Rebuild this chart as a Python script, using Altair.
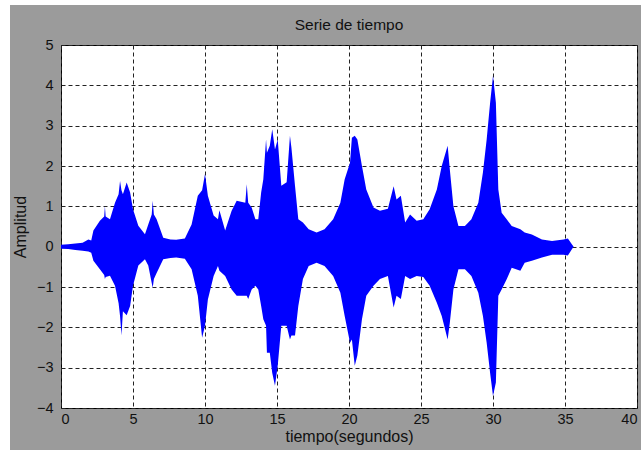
import altair as alt
import pandas as pd

# Envelope of the dense signal
tiempo = [0.0, 0.5, 1.0, 1.5, 1.9, 2.1, 2.25, 2.7, 3.0, 3.05, 3.1, 3.4, 3.75, 4.0, 4.1, 4.2, 4.3,
          4.56, 4.8, 5.0, 5.37, 5.83, 6.06, 6.3, 6.37, 6.45, 6.64, 7.1, 7.6, 8.0, 8.6, 9.07, 9.5,
          9.8, 10.0, 10.2, 10.6, 10.9, 11.0, 11.4, 11.85, 12.2, 12.8, 12.9, 13.0, 13.24, 13.5,
          13.7, 13.9, 14.05, 14.24, 14.3, 14.5, 14.67, 14.86, 15.05, 15.3, 15.67, 15.9, 16.0,
          16.25, 16.48, 16.8, 17.2, 17.75, 18.3, 18.9, 19.4, 19.7, 20.07, 20.2, 20.4, 20.58,
          20.9, 21.2, 21.7, 22.15, 22.7, 23.1, 23.3, 23.6, 23.9, 24.24, 24.7, 25.16, 25.6, 26.1,
          26.44, 26.85, 27.0, 27.25, 27.6, 28.05, 28.5, 28.98, 29.3, 29.56, 29.8, 30.0, 30.2,
          30.37, 30.6, 30.95, 31.3, 31.9, 32.2, 32.7, 33.4, 34.1, 34.9, 35.2, 35.5, 35.6]
superior = [0.05, 0.06, 0.08, 0.1, 0.18, 0.15, 0.4, 0.64, 0.75, 1.0, 0.75, 0.68, 1.09, 1.3, 1.63, 1.4, 1.3,
            1.59, 1.34, 0.93, 0.52, 0.31, 0.55, 0.8, 1.14, 0.8, 0.68, 0.22, 0.18, 0.17, 0.2, 0.55, 1.26,
            1.4, 1.8, 1.26, 0.77, 0.68, 0.9, 0.4, 0.89, 1.14, 1.09, 1.55, 1.09, 0.97, 0.68,
            0.68, 1.34, 1.67, 2.66, 2.33, 2.5, 2.91, 2.41, 2.66, 1.51, 1.6, 2.75, 2.46,
            1.51, 0.68, 0.6, 0.43, 0.35, 0.43, 0.68, 1.09, 1.67, 2.08, 2.7, 2.75, 2.66,
            2.0, 1.42, 0.97, 0.89, 0.94, 1.5, 1.17, 1.26, 0.6, 0.8, 0.64, 0.68, 0.93, 1.42,
            2.0, 2.5, 1.92, 1.0, 0.51, 0.51, 0.68, 1.09, 1.84, 2.66, 3.57, 4.24, 3.57,
            1.42, 0.84, 0.68, 0.51, 0.43, 0.35, 0.3, 0.18, 0.14, 0.18, 0.2, 0.05, 0.0]
inferior = [-0.05, -0.06, -0.08, -0.1, -0.12, -0.15, -0.35, -0.56, -0.7, -0.8, -0.75, -0.72, -0.97, -1.4, -1.72, -2.2, -1.6,
            -1.7, -1.47, -0.97, -0.47, -0.31, -0.47, -0.9, -1.02, -0.8, -0.65, -0.31, -0.28, -0.27, -0.3, -0.56, -1.22,
            -2.26, -1.96, -1.31, -0.73, -0.48, -0.6, -0.73, -1.06, -1.22, -1.22, -1.22, -1.3, -1.06, -0.97,
            -1.06, -1.47, -1.8, -1.96, -2.63, -2.63, -3.13, -3.45, -2.95, -1.96, -1.96, -2.3, -2.2,
            -2.2, -1.47, -0.8, -0.48, -0.4, -0.48, -0.73, -1.14, -1.72, -2.38, -2.3, -2.95, -2.7,
            -1.8, -1.22, -0.97, -0.8, -0.73, -1.51, -1.22, -1.3, -0.73, -0.8, -0.73, -0.75, -0.97, -1.39,
            -1.72, -2.3, -1.89, -1.06, -0.56, -0.56, -0.73, -1.14, -1.72, -2.38, -3.13, -3.7, -3.37,
            -1.22, -1.06, -0.81, -0.52, -0.6, -0.4, -0.35, -0.27, -0.2, -0.2, -0.22, -0.05, 0.0]

x_ticks = [0, 5, 10, 15, 20, 25, 30, 35, 40]
y_ticks = [-4, -3, -2, -1, 0, 1, 2, 3, 4, 5]

df = pd.DataFrame({"t": tiempo, "sup": superior, "inf": inferior})

FONT = "Liberation Sans"

signal = alt.Chart(df).mark_area(color="#0000ff", interpolate="linear", opacity=1).encode(
    x=alt.X("t:Q", scale=alt.Scale(domain=[0, 40], nice=False, zero=False),
            axis=alt.Axis(values=x_ticks, title="tiempo(segundos)", format="d")),
    y=alt.Y("sup:Q", scale=alt.Scale(domain=[-4, 5], nice=False, zero=False),
            axis=alt.Axis(values=y_ticks, title="Amplitud", format="d")),
    y2="inf:Q",
)

# white margin strips around the grey figure
border = alt.Chart(alt.Data(values=[{"k": 1}])).mark_rect(color="white").encode(
    x=alt.value(-61), x2=alt.value(-51), y=alt.value(-45), y2=alt.value(410)
)
border_top = alt.Chart(alt.Data(values=[{"k": 1}])).mark_rect(color="white").encode(
    x=alt.value(-61), x2=alt.value(580), y=alt.value(-45), y2=alt.value(-40)
)
border_bot = alt.Chart(alt.Data(values=[{"k": 1}])).mark_rect(color="white").encode(
    x=alt.value(-61), x2=alt.value(580), y=alt.value(405), y2=alt.value(410)
)

chart = alt.layer(border, border_top, border_bot, signal).properties(
    width=576, height=363,
    title=alt.TitleParams("Serie de tiempo", font=FONT, fontSize=15.5, fontWeight="normal",
                          color="#111111", offset=0, dy=33),
    background="#9b9b9b",
    padding={"left": 61, "top": 45, "right": 4, "bottom": 47},
    autosize=alt.AutoSizeParams(type="none"),
).configure_view(
    fill="white", stroke="black", strokeWidth=1
).configure_axis(
    grid=True, gridColor="#222222", gridDash=[4, 3], gridWidth=1, gridOpacity=1,
    domain=False, ticks=False,
    labelFont=FONT, labelFontSize=14.5, labelColor="#111111",
    titleFont=FONT, titleFontSize=16, titleFontWeight="normal", titleColor="#111111",
).configure_axisX(
    labelPadding=4, titlePadding=3
).configure_axisY(
    labelPadding=8, titlePadding=8
)

chart.save("out.html", embed_options={"renderer": "svg", "actions": False})
